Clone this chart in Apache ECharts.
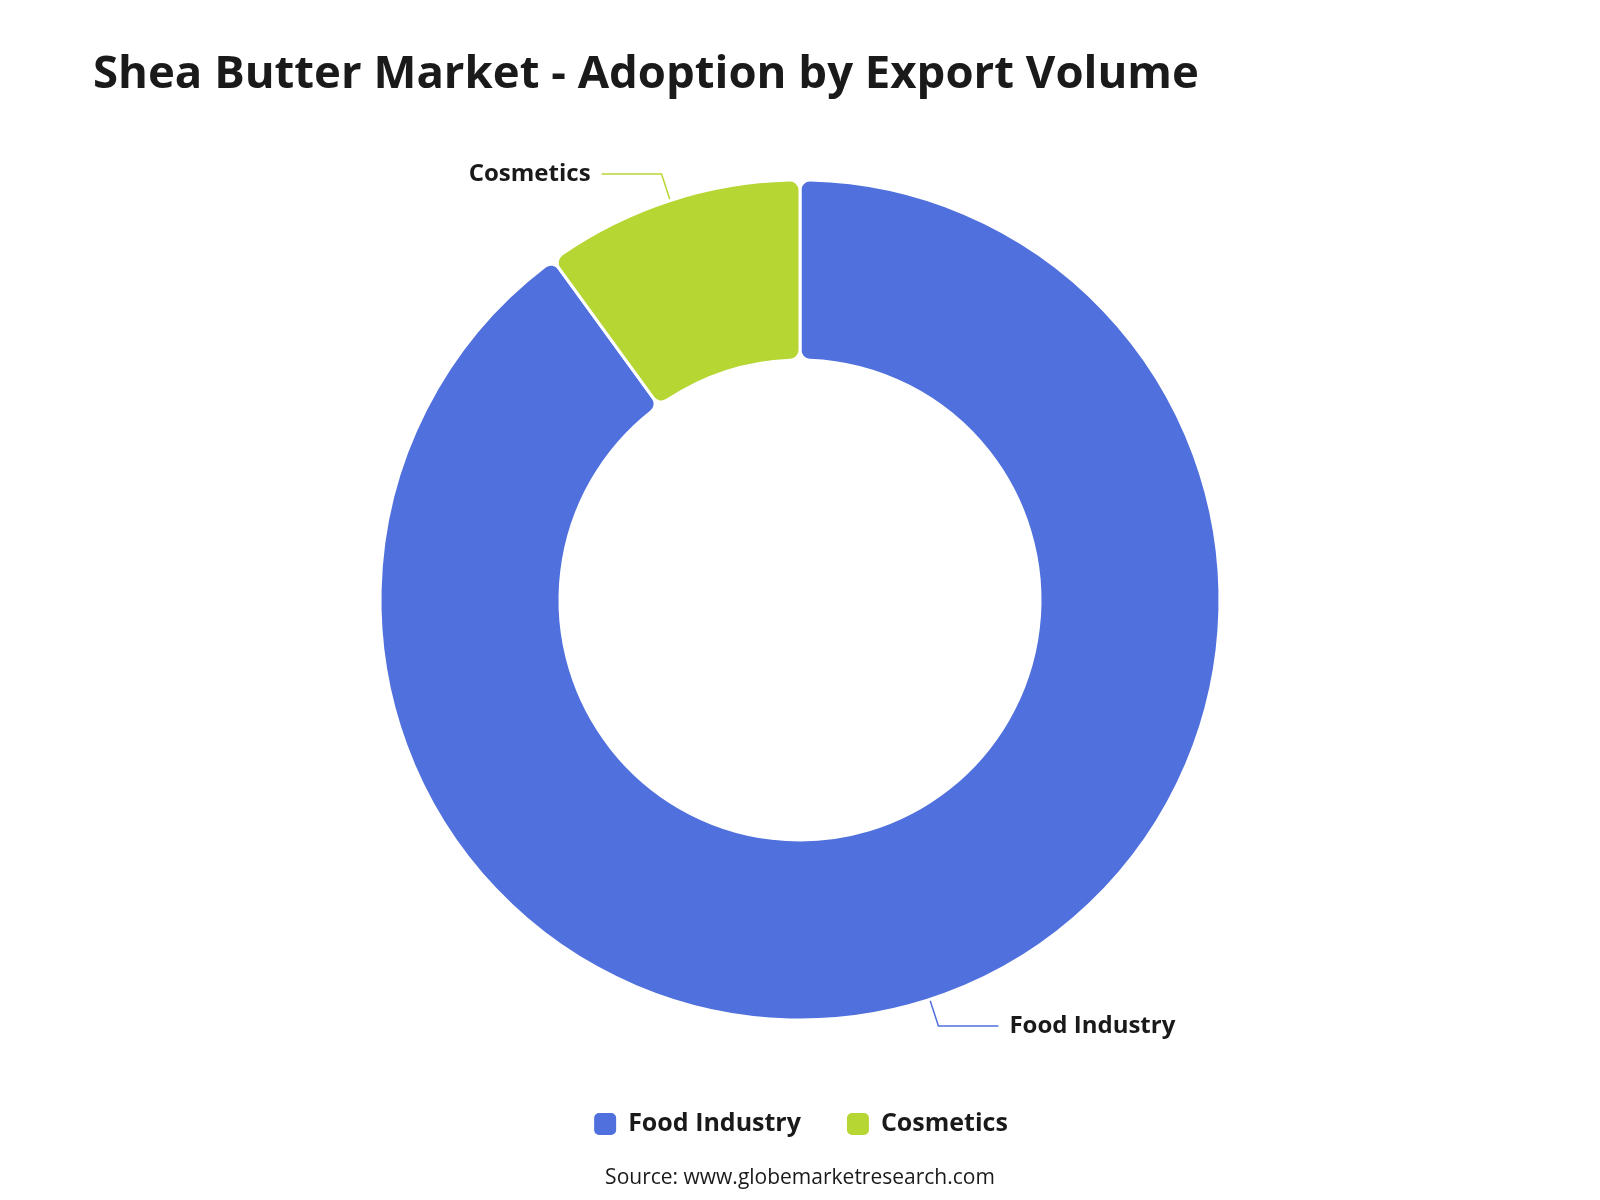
<!DOCTYPE html>
<html>
<head>
    <meta charset="utf-8">
    <title>Shea Butter Market</title>
    <style>
        html, body { margin: 0; padding: 0; background: #fff; }
        #chart { width: 1600px; height: 1200px; }
    </style>
</head>
<body>
    <div id="chart"></div>
    <script src="https://cdn.jsdelivr.net/npm/echarts@6/dist/echarts.min.js"></script>
    <script>
        // data
        var categories = ['Food Industry', 'Cosmetics'];
        var values = [90, 10];

        var chart = echarts.init(document.getElementById('chart'));
        var font = '"Open Sans", "Noto Sans", sans-serif';

        var pieData = categories.map(function (name, i) {
            return { name: name, value: values[i] };
        });

        var option = {
            backgroundColor: '#fff',
            textStyle: { fontFamily: font },
            title: [{
                text: 'Shea Butter Market - Adoption by Export Volume',
                left: 88,
                top: 47,
                textStyle: { fontSize: 45.5, fontWeight: 'bold', color: '#1a1a1a', fontFamily: font }
            }, {
                text: 'Source: www.globemarketresearch.com',
                left: 'center',
                top: 1163,
                textStyle: { fontSize: 21, fontWeight: 500, color: '#1a1a1a', fontFamily: font }
            }],
            legend: {
                data: categories,
                bottom: 58,
                left: 'center',
                icon: 'roundRect',
                itemWidth: 24,
                itemHeight: 24,
                itemGap: 44,
                textStyle: {
                    fontSize: 25, fontWeight: 'bold', color: '#1a1a1a', fontFamily: font,
                    padding: [0, 0, 0, 6]
                }
            },
            series: [{
                type: 'pie',
                radius: ['40%', '70%'],
                center: ['50%', '50%'],
                avoidLabelOverlap: true,
                itemStyle: {
                    borderRadius: 10,
                    borderColor: '#fff',
                    borderWidth: 3
                },
                label: {
                    show: true,
                    formatter: '{b}',
                    fontSize: 24,
                    fontWeight: 'bold',
                    color: '#1a1a1a',
                    fontFamily: font,
                    distanceToLabelLine: 11
                },
                labelLine: {
                    show: true,
                    length: 28,
                    length2: 60,
                    lineStyle: { width: 1.5 }
                },
                data: pieData
            }]
        };

        chart.setOption(option);
        window.addEventListener('resize', function () {
            chart.resize();
        });
    </script>
</body>
</html>
